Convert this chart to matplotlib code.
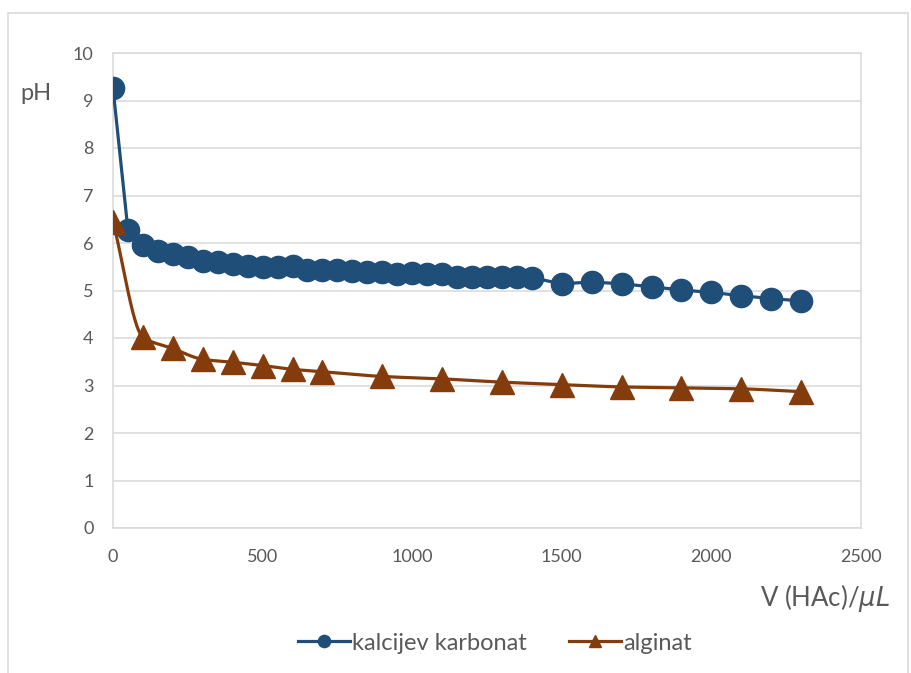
import matplotlib
matplotlib.use('Agg')
import matplotlib.pyplot as plt
import numpy as np
from matplotlib.patches import Rectangle

# titration data: volume of acetic acid (uL) vs pH
v_karbonat = [0, 50, 100, 150, 200, 250, 300, 350, 400, 450, 500, 550, 600, 650, 700,
              750, 800, 850, 900, 950, 1000, 1050, 1100, 1150, 1200, 1250, 1300, 1350,
              1400, 1500, 1600, 1700, 1800, 1900, 2000, 2100, 2200, 2300]
ph_karbonat = [9.26, 6.27, 5.96, 5.84, 5.76, 5.70, 5.63, 5.59, 5.55, 5.51, 5.49, 5.49,
               5.51, 5.43, 5.44, 5.44, 5.41, 5.39, 5.38, 5.35, 5.36, 5.35, 5.35, 5.29,
               5.29, 5.29, 5.29, 5.29, 5.27, 5.14, 5.18, 5.14, 5.08, 5.01, 4.96, 4.89,
               4.83, 4.78]

v_alginat = [0, 100, 200, 300, 400, 500, 600, 700, 900, 1100, 1300, 1500, 1700, 1900,
             2100, 2300]
ph_alginat = [6.45, 4.02, 3.78, 3.55, 3.49, 3.42, 3.34, 3.29, 3.19, 3.14, 3.07, 3.02,
              2.97, 2.95, 2.93, 2.87]

blue = '#1F4E79'
brown = '#843C0C'
grey_txt = '#595959'
grid_col = '#D9D9D9'


def smooth(x, y, n=30):
    # monotone cubic (Fritsch-Carlson) so the curve doesn't overshoot the points
    x = np.asarray(x, float)
    y = np.asarray(y, float)
    h = np.diff(x)
    d = np.diff(y) / h
    m = np.zeros_like(y)
    m[0], m[-1] = d[0], d[-1]
    for i in range(1, len(x) - 1):
        if d[i - 1] * d[i] > 0:
            w1 = 2 * h[i] + h[i - 1]
            w2 = h[i] + 2 * h[i - 1]
            m[i] = (w1 + w2) / (w1 / d[i - 1] + w2 / d[i])
    xs, ys = [], []
    for i in range(len(x) - 1):
        t = np.linspace(0, 1, n)
        h00 = 2 * t ** 3 - 3 * t ** 2 + 1
        h10 = t ** 3 - 2 * t ** 2 + t
        h01 = -2 * t ** 3 + 3 * t ** 2
        h11 = t ** 3 - t ** 2
        seg = h00 * y[i] + h10 * h[i] * m[i] + h01 * y[i + 1] + h11 * h[i] * m[i + 1]
        xs.append(x[i] + t * h[i])
        ys.append(seg)
    return np.concatenate(xs), np.concatenate(ys)


plt.rcParams['font.family'] = ['Lato', 'DejaVu Sans']

fig = plt.figure(figsize=(9.12, 6.73), dpi=100)
ax = fig.add_axes([113 / 912, 1 - 528 / 673, (861 - 113) / 912, (528 - 53) / 673])

# outer chart border
fig.patches.append(Rectangle((8 / 912, -0.01), (908 - 8) / 912, 1 - 13 / 673 + 0.01,
                             transform=fig.transFigure, fill=False,
                             edgecolor=grid_col, linewidth=1.2))

ax.plot(v_karbonat, ph_karbonat, color=blue, linewidth=2.3, marker='o',
        markersize=16, markeredgecolor=blue, label='kalcijev karbonat', zorder=3)

sx, sy = smooth(v_alginat, ph_alginat)
ax.plot(sx, sy, color=brown, linewidth=2.3, zorder=4)
ax.plot(v_alginat, ph_alginat, linestyle='none', marker='^', markersize=17,
        color=brown, zorder=5)
# legend proxy for the alginate series
ax.plot([], [], color=brown, linewidth=2.3, marker='^', markersize=17, label='alginat')

ax.set_xlim(0, 2500)
ax.set_ylim(0, 10)
ax.set_xticks(np.arange(0, 2501, 500))
ax.set_yticks(np.arange(0, 11, 1))
ax.grid(axis='y', color=grid_col, linewidth=1.1)
ax.set_axisbelow(True)
for s in ax.spines.values():
    s.set_color(grid_col)
    s.set_linewidth(1.1)
ax.tick_params(length=0, labelsize=13, labelcolor=grey_txt)
ax.tick_params(axis='y', pad=14)
ax.tick_params(axis='x', pad=15)

fig.text(36 / 912, 1 - 94 / 673, 'pH', fontsize=17, color=grey_txt, ha='center', va='center')
fig.text(890 / 912, 1 - 598 / 673, r'V (HAc)/$\mu L$', fontsize=18.5, color=grey_txt,
         ha='right', va='center')

leg = fig.legend(loc='center', bbox_to_anchor=(495 / 912, 1 - 643 / 673), ncol=2,
                 frameon=False, fontsize=17, markerscale=0.55, handlelength=2.2,
                 handletextpad=0.1, columnspacing=1.8)
for t in leg.get_texts():
    t.set_color(grey_txt)

fig.savefig('out.png', dpi=100)
